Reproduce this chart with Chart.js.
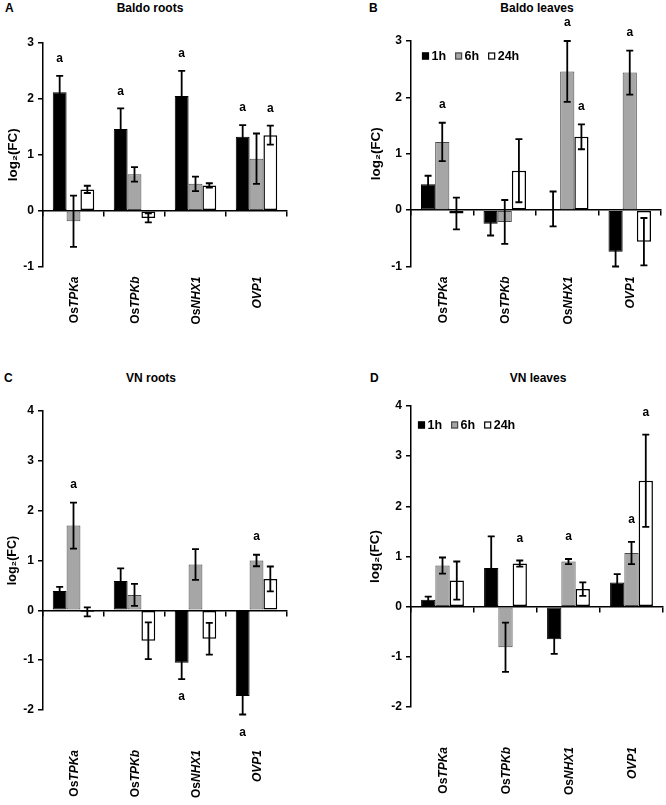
<!DOCTYPE html>
<html lang="en">
<head>
<meta charset="UTF-8" />
<title>Baldo / VN log2(FC)</title>
<style>
    body {
        margin: 0;
        background: #fff;
        font-family: 'Liberation Sans', Arial, sans-serif;
    }
    #fig {
        position: relative;
        width: 666px;
        height: 805px;
    }
    canvas {
        position: absolute;
    }
    .lbl {
        position: absolute;
        font-weight: bold;
        font-size: 12px;
        line-height: 14px;
        color: #000;
        white-space: nowrap;
    }
    .ttl {
        transform: translateX(-50%);
    }
</style>
</head>
<body>
<div id="fig">
    <div class="lbl" style="left:5px;top:1px">A</div>
    <div class="lbl ttl" style="left:150px;top:1px">Baldo roots</div>
    <div class="lbl" style="left:369px;top:1px">B</div>
    <div class="lbl ttl" style="left:537px;top:1px">Baldo leaves</div>
    <div class="lbl" style="left:4px;top:371px">C</div>
    <div class="lbl ttl" style="left:151px;top:371px">VN roots</div>
    <div class="lbl" style="left:370px;top:371px">D</div>
    <div class="lbl ttl" style="left:538px;top:371px">VN leaves</div>

    <canvas id="chartA" width="333" height="370" style="left:0;top:0"></canvas>
    <canvas id="chartB" width="333" height="370" style="left:333px;top:0"></canvas>
    <canvas id="chartC" width="333" height="435" style="left:0;top:370px"></canvas>
    <canvas id="chartD" width="333" height="435" style="left:333px;top:370px"></canvas>
</div>

<script src="https://cdn.jsdelivr.net/npm/chart.js"></script>
<script>
    // genes and time points
    const genes = ["OsTPKa", "OsTPKb", "OsNHX1", "OVP1"];
    const times = ["1h", "6h", "24h"];

    // A - Baldo roots
    const baldoRoots1h = [2.12, 1.46, 2.05, 1.32];
    const baldoRoots6h = [-0.19, 0.65, 0.48, 0.93];
    const baldoRoots24h = [0.38, -0.13, 0.45, 1.35];
    const baldoRoots1hErr = [0.29, 0.37, 0.45, 0.21];
    const baldoRoots6hErr = [0.46, 0.13, 0.13, 0.45];
    const baldoRoots24hErr = [0.065, 0.08, 0.04, 0.17];
    const baldoRoots1hSig = ["a", "a", "a", "a"];
    const baldoRoots6hSig = ["", "", "", ""];
    const baldoRoots24hSig = ["", "", "", "a"];

    // B - Baldo leaves
    const baldoLeaves1h = [0.46, -0.24, 0.02, -0.74];
    const baldoLeaves6h = [1.21, -0.21, 2.46, 2.44];
    const baldoLeaves24h = [-0.06, 0.70, 1.30, -0.56];
    const baldoLeaves1hErr = [0.15, 0.21, 0.31, 0.26];
    const baldoLeaves6hErr = [0.34, 0.39, 0.54, 0.39];
    const baldoLeaves24hErr = [0.28, 0.56, 0.22, 0.42];
    const baldoLeaves1hSig = ["", "", "", ""];
    const baldoLeaves6hSig = ["a", "", "a", "a"];
    const baldoLeaves24hSig = ["", "", "a", ""];

    // C - VN roots
    const vnRoots1h = [0.39, 0.59, -1.05, -1.72];
    const vnRoots6h = [1.70, 0.31, 0.92, 1.00];
    const vnRoots24h = [-0.03, -0.61, -0.57, 0.63];
    const vnRoots1hErr = [0.08, 0.25, 0.33, 0.37];
    const vnRoots6hErr = [0.46, 0.22, 0.31, 0.115];
    const vnRoots24hErr = [0.09, 0.37, 0.32, 0.25];
    const vnRoots1hSig = ["", "", "a", "a"];
    const vnRoots6hSig = ["a", "", "", "a"];
    const vnRoots24hSig = ["", "", "", ""];

    // D - VN leaves
    const vnLeaves1h = [0.14, 0.77, -0.65, 0.48];
    const vnLeaves6h = [0.82, -0.81, 0.90, 1.07];
    const vnLeaves24h = [0.52, 0.86, 0.35, 2.51];
    const vnLeaves1hErr = [0.06, 0.63, 0.29, 0.17];
    const vnLeaves6hErr = [0.16, 0.49, 0.05, 0.22];
    const vnLeaves24hErr = [0.38, 0.06, 0.135, 0.92];
    const vnLeaves1hSig = ["", "", "", ""];
    const vnLeaves6hSig = ["", "", "a", "a"];
    const vnLeaves24hSig = ["", "a", "", "a"];

    const FONT = "'Liberation Sans', Arial, Helvetica, sans-serif";
    const fills = ["#000000", "#a6a6a6", "#ffffff"];
    const edges = ["#000000", "#4a4a4a", "#000000"];
    const edgeWidths = [1, 1, 1.5];

    Chart.defaults.font.family = FONT;
    Chart.defaults.color = "#000";

    // error bars + significance letters
    const errorBars = {
        id: "errorBars",
        afterDatasetsDraw(chart, args, opts) {
            const ctx = chart.ctx;
            const y = chart.scales.y;
            ctx.save();
            ctx.strokeStyle = "#000";
            ctx.fillStyle = "#000";
            ctx.lineWidth = 1.8;
            ctx.font = "bold 12px " + FONT;
            ctx.textAlign = "center";
            ctx.textBaseline = "middle";
            chart.data.datasets.forEach((ds, i) => {
                chart.getDatasetMeta(i).data.forEach((bar, j) => {
                    const v = ds.data[j], e = ds.errors[j];
                    const hi = y.getPixelForValue(v + e);
                    const lo = y.getPixelForValue(v - e);
                    ctx.beginPath();
                    ctx.moveTo(bar.x, hi); ctx.lineTo(bar.x, lo);
                    ctx.moveTo(bar.x - 3.5, hi); ctx.lineTo(bar.x + 3.5, hi);
                    ctx.moveTo(bar.x - 3.5, lo); ctx.lineTo(bar.x + 3.5, lo);
                    ctx.stroke();
                    if (ds.sig[j]) {
                        ctx.fillText(ds.sig[j], bar.x, v >= 0 ? hi - opts.gap : lo + opts.gap);
                    }
                });
            });
            ctx.restore();
        }
    };

    // rotated gene names under the plot, "Os" upright and the rest italic
    const geneNames = {
        id: "geneNames",
        afterDraw(chart, args, opts) {
            const ctx = chart.ctx;
            const x = chart.scales.x;
            const top = chart.chartArea.bottom + opts.gap;
            ctx.save();
            ctx.fillStyle = "#000";
            ctx.textBaseline = "middle";
            ctx.textAlign = "right";
            chart.data.labels.forEach((name, i) => {
                const pre = name.startsWith("Os") ? "Os" : "";
                const rest = name.slice(pre.length);
                ctx.save();
                ctx.translate(x.getPixelForValue(i) + 1, top);
                ctx.rotate(-Math.PI / 2);
                ctx.font = "italic bold 12px " + FONT;
                const w = ctx.measureText(rest).width;
                ctx.fillText(rest, 0, 0);
                if (pre) {
                    ctx.font = "bold 12px " + FONT;
                    ctx.fillText(pre, -w, 0);
                }
                ctx.restore();
            });
            ctx.restore();
        }
    };

    // small legend drawn inside the plot area
    const keyBox = {
        id: "keyBox",
        afterDraw(chart, args, opts) {
            if (!opts.show) return;
            const ctx = chart.ctx;
            let x = chart.chartArea.left + opts.dx;
            const cy = chart.chartArea.top + opts.dy;
            ctx.save();
            ctx.font = "bold 12.5px " + FONT;
            ctx.textBaseline = "middle";
            ctx.textAlign = "left";
            chart.data.datasets.forEach(ds => {
                ctx.fillStyle = ds.backgroundColor;
                ctx.fillRect(x, cy - 3.5, 7, 7);
                ctx.strokeStyle = ds.borderColor;
                ctx.lineWidth = 1.2;
                ctx.strokeRect(x + 0.5, cy - 3, 6, 6);
                x += 9.5;
                ctx.fillStyle = "#000";
                ctx.fillText(ds.label, x, cy + 0.5);
                x += ctx.measureText(ds.label).width + 9;
            });
            ctx.restore();
        }
    };

    function panel(id, vals, errs, sigs, yMin, yMax, geo) {
        const datasets = times.map((t, k) => ({
            label: t,
            data: vals[k],
            errors: errs[k],
            sig: sigs[k],
            backgroundColor: fills[k],
            borderColor: edges[k],
            borderWidth: edgeWidths[k],
            borderSkipped: false,
            categoryPercentage: 0.68,
            barPercentage: 1.0
        }));
        return new Chart(document.getElementById(id), {
            type: "bar",
            data: { labels: genes, datasets },
            plugins: [errorBars, geneNames, keyBox],
            options: {
                responsive: false,
                animation: false,
                layout: { padding: { left: geo.padLeft, top: geo.top, right: geo.padRight, bottom: 0 } },
                plugins: {
                    legend: { display: false },
                    tooltip: { enabled: false },
                    errorBars: { gap: geo.sigGap },
                    geneNames: { gap: geo.labelGap },
                    keyBox: { show: geo.key, dx: geo.keyX, dy: geo.keyY }
                },
                scales: {
                    x: {
                        type: "category",
                        offset: true,
                        grid: { display: false },
                        border: { display: false },
                        ticks: { display: false },
                        afterFit: s => { s.height = geo.bottomSpace; }
                    },
                    x0: {
                        type: "category",
                        axis: "x",
                        position: { y: 0 },
                        offset: true,
                        z: 1,
                        grid: { offset: true, drawOnChartArea: false, drawTicks: true, tickLength: 5, color: "#000", lineWidth: 1.5 },
                        border: { display: true, color: "#000", width: 1.5 },
                        ticks: { display: false }
                    },
                    y: {
                        min: yMin,
                        max: yMax,
                        ticks: { stepSize: 1, color: "#000", padding: 4, font: { size: 12, weight: "bold" } },
                        grid: { drawOnChartArea: false, drawTicks: true, tickLength: 5, color: "#000", lineWidth: 1.5 },
                        border: { display: true, color: "#000", width: 1.5 },
                        title: {
                            display: true,
                            text: "log₂(FC)",
                            color: "#000",
                            font: { size: geo.titleSize, weight: "bold" },
                            padding: { top: 5, bottom: 0 }
                        },
                        afterFit: s => { s.width = geo.axisWidth; }
                    }
                }
            }
        });
    }

    panel("chartA",
        [baldoRoots1h, baldoRoots6h, baldoRoots24h],
        [baldoRoots1hErr, baldoRoots6hErr, baldoRoots24hErr],
        [baldoRoots1hSig, baldoRoots6hSig, baldoRoots24hSig],
        -1, 3,
        { padLeft: 0, axisWidth: 43, padRight: 46, top: 43, bottomSpace: 103.5, titleSize: 13.5,
          sigGap: 17, labelGap: 10, key: false });

    panel("chartB",
        [baldoLeaves1h, baldoLeaves6h, baldoLeaves24h],
        [baldoLeaves1hErr, baldoLeaves6hErr, baldoLeaves24hErr],
        [baldoLeaves1hSig, baldoLeaves6hSig, baldoLeaves24hSig],
        -1, 3,
        { padLeft: 30, axisWidth: 48, padRight: 5, top: 41, bottomSpace: 103.5, titleSize: 13.5,
          sigGap: 18, labelGap: 10, key: true, keyX: 11, keyY: 15 });

    panel("chartC",
        [vnRoots1h, vnRoots6h, vnRoots24h],
        [vnRoots1hErr, vnRoots6hErr, vnRoots24hErr],
        [vnRoots1hSig, vnRoots6hSig, vnRoots24hSig],
        -2, 4,
        { padLeft: 0, axisWidth: 43, padRight: 46, top: 41, bottomSpace: 95, titleSize: 12.5,
          sigGap: 18, labelGap: 40, key: false });

    panel("chartD",
        [vnLeaves1h, vnLeaves6h, vnLeaves24h],
        [vnLeaves1hErr, vnLeaves6hErr, vnLeaves24hErr],
        [vnLeaves1hSig, vnLeaves6hSig, vnLeaves24hSig],
        -2, 4,
        { padLeft: 29, axisWidth: 49, padRight: 3, top: 36, bottomSpace: 98, titleSize: 13.5,
          sigGap: 22, labelGap: 40, key: true, keyX: 7, keyY: 19 });
</script>
</body>
</html>
